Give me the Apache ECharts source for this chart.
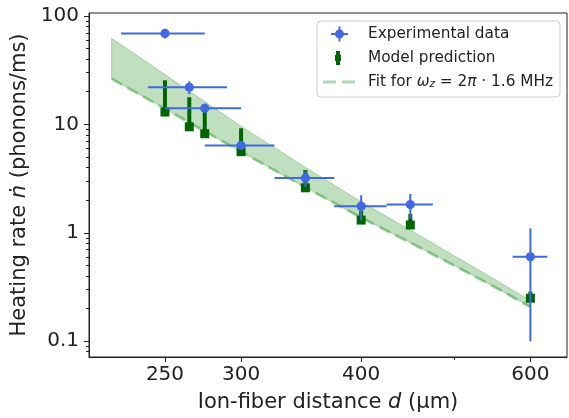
<!DOCTYPE html>
<html>
<head>
<meta charset="utf-8">
<script src="https://cdn.jsdelivr.net/npm/echarts@6/dist/echarts.min.js"></script>
<style>
  html, body { margin: 0; padding: 0; background: #fff; }
  #chart { width: 569px; height: 418px; }
</style>
</head>
<body>
<div id="chart"></div>
<script>
// Ion-fiber distance (µm) of each measurement and its uncertainty
const distance = [250, 265, 275, 300, 350, 400, 450, 600];
const distanceErr = [25, 25, 25, 25, 25, 25, 25, 25];
// Measured heating rate (phonons/ms) and its uncertainty
const expRate = [69, 22, 14.1, 6.4, 3.2, 1.76, 1.82, 0.6];
const expRateErr = [7, 3, 1.2, 0.6, 0.55, 0.46, 0.46, 0.5];
// Model prediction and the top of its error range
const modelRate = [13.0, 9.5, 8.2, 5.6, 2.6, 1.31, 1.18, 0.249];
const modelRateHigh = [25.5, 17.8, 13.5, 9.2, 3.8, 1.6, 1.49, 0.287];
// Power-law fit (lower edge) and upper edge of its uncertainty band
const fitDistance = [220, 250, 300, 350, 400, 450, 500, 550, 600];
const fitRate = [26.4, 13.9, 5.59, 2.62, 1.38, 0.81, 0.499, 0.318, 0.207];
const fitRateHigh = [62.4, 28.8, 9.61, 4.03, 1.93, 1.06, 0.614, 0.375, 0.237];
// Axis ticks
const xTicks = [250, 300, 400, 600];
const xMinorTicks = [200, 300, 400, 500, 600];
const yTicks = [0.1, 1, 10, 100];
const yMinorTicks = [0.08, 0.09, 0.2, 0.3, 0.4, 0.5, 0.6, 0.7, 0.8, 0.9,
  2, 3, 4, 5, 6, 7, 8, 9, 20, 30, 40, 50, 60, 70, 80, 90];

const FONT = 'DejaVu Sans';
const INK = '#222';
const BLUE = '#4169E1';
const DKGREEN = '#006400';
const X_MIN = 208.4, X_MAX = 655;
const Y_MIN = 0.0715, Y_MAX = 106.5;

const expData = distance.map((d, i) => [d, expRate[i], d - distanceErr[i], d + distanceErr[i],
  expRate[i] - expRateErr[i], expRate[i] + expRateErr[i]]);
const modelData = distance.map((d, i) => [d, modelRate[i], modelRateHigh[i]]);
const fitData = fitDistance.map((d, i) => [d, fitRate[i], fitRateHigh[i]]);

function renderExp(params, api) {
  const c = api.coord([api.value(0), api.value(1)]);
  const xl = api.coord([api.value(2), api.value(1)]);
  const xr = api.coord([api.value(3), api.value(1)]);
  const yl = api.coord([api.value(0), api.value(4)]);
  const yh = api.coord([api.value(0), api.value(5)]);
  const line = { stroke: BLUE, lineWidth: 2 };
  return {
    type: 'group',
    children: [
      { type: 'line', shape: { x1: xl[0], y1: xl[1], x2: xr[0], y2: xr[1] }, style: line },
      { type: 'line', shape: { x1: yl[0], y1: yl[1], x2: yh[0], y2: yh[1] }, style: line },
      { type: 'circle', shape: { cx: c[0], cy: c[1], r: 4.6 }, style: { fill: BLUE } }
    ]
  };
}

function renderModel(params, api) {
  const c = api.coord([api.value(0), api.value(1)]);
  const h = api.coord([api.value(0), api.value(2)]);
  return {
    type: 'group',
    children: [
      { type: 'line', shape: { x1: c[0], y1: c[1], x2: h[0], y2: h[1] },
        style: { stroke: DKGREEN, lineWidth: 4 } },
      { type: 'rect', shape: { x: c[0] - 4.5, y: c[1] - 4.5, width: 9, height: 9 },
        style: { fill: DKGREEN } }
    ]
  };
}

function renderBand(params, api) {
  if (params.dataIndex !== 0) return { type: 'group', children: [] };
  const upper = fitDistance.map((d, i) => api.coord([d, fitRateHigh[i]]));
  const lower = fitDistance.map((d, i) => api.coord([d, fitRate[i]])).reverse();
  return {
    type: 'polygon',
    shape: { points: upper.concat(lower) },
    style: { fill: 'rgba(0,128,0,0.25)', stroke: 'rgba(0,128,0,0.25)', lineWidth: 1 }
  };
}

function renderFit(params, api) {
  if (params.dataIndex !== 0) return { type: 'group', children: [] };
  const pts = fitDistance.map((d, i) => api.coord([d, fitRate[i]]));
  return {
    type: 'polyline',
    shape: { points: pts },
    style: { fill: null, stroke: 'rgba(0,128,0,0.3)', lineWidth: 3, lineDash: [12, 6] }
  };
}

const axisCommon = {
  type: 'log',
  logBase: 10,
  splitLine: { show: false },
  minorTick: { show: false },
  minorSplitLine: { show: false }
};

const option = {
  animation: false,
  backgroundColor: '#fff',
  grid: { left: 89, right: 2, top: 13, bottom: 56, show: true, borderColor: INK, borderWidth: 1,
    backgroundColor: 'transparent' },
  legend: {
    orient: 'vertical',
    left: 317, top: 21,
    padding: [5, 7, 7, 6],
    itemWidth: 40, itemHeight: 16, itemGap: 8,
    backgroundColor: 'rgba(255,255,255,0.8)',
    borderColor: '#ccc', borderWidth: 1, borderRadius: 4,
    selectedMode: false,
    textStyle: {
      fontFamily: FONT, fontSize: 15.3, color: INK,
      rich: {
        i: { fontFamily: FONT, fontSize: 15.3, fontStyle: 'italic', color: INK },
        sub: { fontFamily: FONT, fontSize: 10.5, fontStyle: 'italic', color: INK, verticalAlign: 'bottom' }
      }
    },
    formatter: name => name === 'Fit' ? 'Fit for {i|ω}{sub|z} = 2{i|π} · 1.6 MHz' : name,
    data: [
      { name: 'Experimental data',
        icon: 'path://M0 0M40 16M8 7H25V9H8ZM15.5 0.5H17.5V15.5H15.5ZM21 8A4.5 4.5 0 1 1 12 8A4.5 4.5 0 1 1 21 8Z' },
      { name: 'Model prediction',
        icon: 'path://M0 0M40 16M13 1H17V15H13ZM12 5H18V11H12Z' },
      { name: 'Fit',
        icon: 'path://M0 0M40 16M0 6.5H13V9.5H0ZM19 6.5H32V9.5H19Z' }
    ]
  },
  xAxis: [
    Object.assign({}, axisCommon, {
      min: X_MIN, max: X_MAX,
      axisLine: { show: true, lineStyle: { color: INK, width: 1 } },
      axisTick: { show: true, customValues: xTicks, length: 5, lineStyle: { color: INK, width: 1 } },
      axisLabel: { customValues: xTicks, fontFamily: FONT, fontSize: 20, color: INK, margin: 8,
        formatter: v => String(Math.round(v)) },
      name: 'Ion-fiber distance {i|d} (µm)',
      nameLocation: 'middle', nameGap: 35,
      nameTextStyle: { fontFamily: FONT, fontSize: 21, color: INK,
        rich: { i: { fontFamily: FONT, fontSize: 21, fontStyle: 'italic', color: INK } } }
    }),
    Object.assign({}, axisCommon, {
      min: X_MIN, max: X_MAX, position: 'bottom',
      axisLine: { show: false },
      axisTick: { show: true, customValues: xMinorTicks, length: 3, lineStyle: { color: INK, width: 1 } },
      axisLabel: { show: false }
    })
  ],
  yAxis: [
    Object.assign({}, axisCommon, {
      min: Y_MIN, max: Y_MAX,
      axisLine: { show: true, lineStyle: { color: INK, width: 1 } },
      axisTick: { show: true, customValues: yTicks, length: 5, lineStyle: { color: INK, width: 1 } },
      axisLabel: { customValues: yTicks, fontFamily: FONT, fontSize: 20, color: INK, margin: 10,
        formatter: v => (v < 1 ? v.toFixed(1) : String(Math.round(v))) },
      name: 'Heating rate {i|ṅ} (phonons/ms)',
      nameLocation: 'middle', nameGap: 54, nameRotate: 90,
      nameTextStyle: { fontFamily: FONT, fontSize: 21, color: INK,
        rich: { i: { fontFamily: FONT, fontSize: 21, fontStyle: 'italic', color: INK } } }
    }),
    Object.assign({}, axisCommon, {
      min: Y_MIN, max: Y_MAX, position: 'left',
      axisLine: { show: false },
      axisTick: { show: true, customValues: yMinorTicks, length: 3, lineStyle: { color: INK, width: 1 } },
      axisLabel: { show: false }
    })
  ],
  series: [
    { type: 'custom', name: 'band', silent: true, renderItem: renderBand, data: fitData,
      encode: { x: 0, y: [1, 2] } },
    { type: 'custom', name: 'Fit', silent: true, renderItem: renderFit, data: fitData,
      itemStyle: { color: 'rgba(0,128,0,0.3)' }, encode: { x: 0, y: 1 } },
    { type: 'custom', name: 'Model prediction', silent: true, renderItem: renderModel, data: modelData,
      itemStyle: { color: DKGREEN }, encode: { x: 0, y: [1, 2] } },
    { type: 'custom', name: 'Experimental data', silent: true, renderItem: renderExp, data: expData,
      itemStyle: { color: BLUE }, encode: { x: [0, 2, 3], y: [1, 4, 5] } }
  ]
};

const chart = echarts.init(document.getElementById('chart'), null, { renderer: 'canvas' });
chart.setOption(option);
</script>
</body>
</html>
